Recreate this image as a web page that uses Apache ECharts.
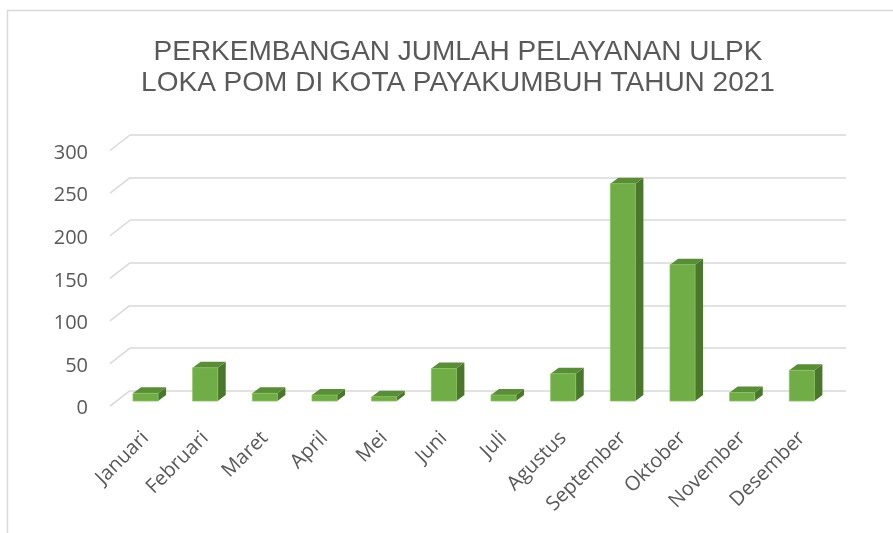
<!DOCTYPE html>
<html>
<head>
<meta charset="utf-8">
<script src="https://cdn.jsdelivr.net/npm/echarts@6/dist/echarts.min.js"></script>
<style>
  html, body { margin: 0; padding: 0; background: #fff; }
  #chart { width: 893px; height: 533px; }
</style>
</head>
<body>
<div id="chart"></div>
<script>
var months = ["Januari", "Februari", "Maret", "April", "Mei", "Juni", "Juli",
  "Agustus", "September", "Oktober", "November", "Desember"];
var jumlah = [9, 39, 9, 7, 5, 38, 7, 32, 255, 160, 10, 36];
var ticks = [0, 50, 100, 150, 200, 250, 300];

var labelColor = "#595959";
var gridColor = "#d9d9d9";
// floor depth (back wall -> front edge) and bar depth
var floorDx = -20, floorDy = 15.5;
var barDx = 8, barDy = -6;

var myChart = echarts.init(document.getElementById("chart"));

function yAxisBase(idx, showLabel, showSplit) {
  return {
    type: "value",
    gridIndex: idx,
    min: 0,
    max: 300,
    interval: 50,
    axisLine: { show: false },
    axisTick: { show: false },
    axisLabel: {
      show: showLabel,
      margin: 22,
      color: labelColor,
      fontFamily: "Open Sans",
      fontSize: 20
    },
    splitLine: { show: showSplit, lineStyle: { color: gridColor, width: 1.5 } }
  };
}

function xAxisBase(idx, showLabel) {
  return {
    type: "category",
    gridIndex: idx,
    data: months,
    axisLine: { show: false },
    axisTick: { show: false },
    axisLabel: {
      show: showLabel,
      interval: 0,
      rotate: 45,
      margin: 34,
      color: labelColor,
      fontFamily: "Open Sans",
      fontSize: 20
    },
    splitLine: { show: false }
  };
}

myChart.setOption({
  animation: false,
  title: {
    text: "PERKEMBANGAN JUMLAH PELAYANAN ULPK\nLOKA POM DI KOTA PAYAKUMBUH TAHUN 2021",
    left: 453,
    top: 32,
    textAlign: "center",
    textStyle: {
      fontFamily: "Liberation Sans",
      fontWeight: "normal",
      fontSize: 28,
      lineHeight: 31,
      color: labelColor
    }
  },
  graphic: [
    {
      type: "rect",
      shape: { x: 7.5, y: 10.5, width: 950, height: 600 },
      style: { fill: null, stroke: gridColor, lineWidth: 1.5 },
      silent: true,
      z: -10
    }
  ],
  grid: [
    // back wall
    { left: 130, right: 47, top: 135, bottom: 142.3 },
    // front-left edge (value labels)
    { left: 110, right: 67, top: 153, bottom: 124.3 },
    // bar plane
    { left: 115.7, right: 61.3, top: 145.3, bottom: 132 }
  ],
  xAxis: [xAxisBase(0, false), xAxisBase(1, false), xAxisBase(2, true)],
  yAxis: [yAxisBase(0, false, true), yAxisBase(1, true, false), yAxisBase(2, false, false)],
  series: [
    {
      type: "custom",
      xAxisIndex: 0,
      yAxisIndex: 0,
      data: ticks.map(function (t) { return [0, t]; }),
      silent: true,
      z: 1,
      renderItem: function (params, api) {
        var p = api.coord([0, api.value(1)]);
        var x = params.coordSys.x;
        return {
          type: "line",
          shape: { x1: x + floorDx, y1: p[1] + floorDy, x2: x, y2: p[1] },
          style: { stroke: gridColor, lineWidth: 1.5 }
        };
      }
    },
    {
      type: "custom",
      xAxisIndex: 2,
      yAxisIndex: 2,
      z: 5,
      data: months.map(function (m, i) { return [i, jumlah[i]]; }),
      renderItem: function (params, api) {
        var top = api.coord([api.value(0), api.value(1)]);
        var base = api.coord([api.value(0), 0]);
        var w = api.size([1, 0])[0] * 0.42;
        var x0 = top[0] - w / 2, y0 = top[1];
        return {
          type: "group",
          children: [
            {
              type: "polygon",
              shape: { points: [[x0 + w, y0], [x0 + w + barDx, y0 + barDy], [x0 + w + barDx, base[1] + barDy], [x0 + w, base[1]]] },
              style: { fill: "#4a772b" }
            },
            {
              type: "polygon",
              shape: { points: [[x0, y0], [x0 + w, y0], [x0 + w + barDx, y0 + barDy], [x0 + barDx, y0 + barDy]] },
              style: { fill: "#5a8d37" }
            },
            {
              type: "rect",
              shape: { x: x0, y: y0, width: w, height: base[1] - y0 },
              style: { fill: "#70ad47", stroke: "#86c25c", lineWidth: 0.8 }
            }
          ]
        };
      }
    }
  ]
});
</script>
</body>
</html>
